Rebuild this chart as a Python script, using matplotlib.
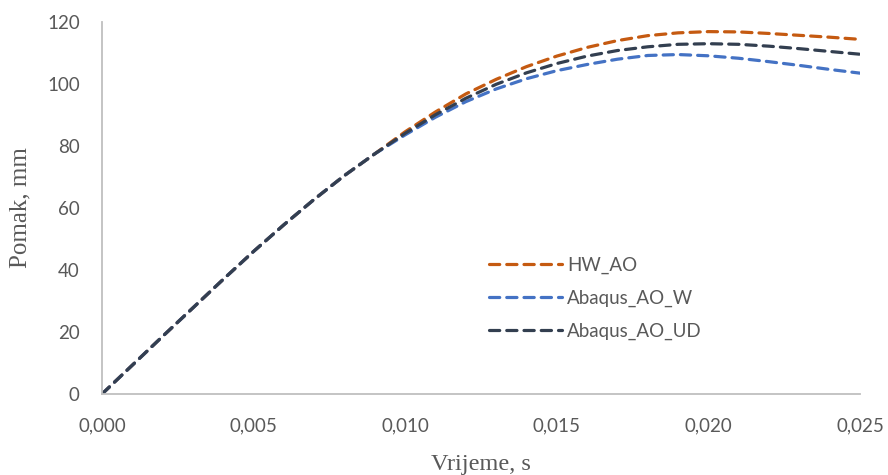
import matplotlib
matplotlib.use("Agg")
import matplotlib.pyplot as plt
from matplotlib.ticker import FuncFormatter

time_s = [0.000, 0.001, 0.002, 0.003, 0.004, 0.005, 0.006, 0.007, 0.008, 0.009,
          0.010, 0.011, 0.012, 0.013, 0.014, 0.015, 0.016, 0.017, 0.018, 0.019,
          0.020, 0.021, 0.022, 0.023, 0.024, 0.025]
common = [0.0, 9.3, 18.6, 27.8, 37.0, 46.0, 54.6, 62.8, 70.5, 77.5]
hw_ao = common + [84.6, 91.0, 96.8, 101.5, 105.6, 109.0, 111.8, 114.0, 115.6, 116.5,
                  116.9, 116.8, 116.3, 115.7, 115.1, 114.4]
abaqus_ao_w = common + [83.6, 89.3, 94.3, 98.4, 101.7, 104.3, 106.3, 108.0, 109.2, 109.5,
                        109.1, 108.3, 107.2, 106.0, 104.7, 103.5]
abaqus_ao_ud = common + [84.1, 90.1, 95.4, 99.9, 103.6, 106.6, 109.0, 110.8, 112.0, 112.8,
                         113.0, 112.8, 112.2, 111.4, 110.5, 109.6]
series_names = ["HW_AO", "Abaqus_AO_W", "Abaqus_AO_UD"]
colors = ["#C55A11", "#4472C4", "#333F50"]

x_ticks = [0.000, 0.005, 0.010, 0.015, 0.020, 0.025]
y_ticks = [0, 20, 40, 60, 80, 100, 120]

fig = plt.figure(figsize=(8.88, 4.75), dpi=100)
ax = fig.add_axes([102/888, 1-394/475, 758/888, 372/475])

for y, name, c in zip([hw_ao, abaqus_ao_w, abaqus_ao_ud], series_names, colors):
    ax.plot(time_s, y, color=c, lw=2.3, linestyle=(0, (3.2, 2.2)),
            dash_capstyle="round", solid_joinstyle="round", label=name)

ax.set_xlim(0, 0.025)
ax.set_ylim(0, 120)
ax.set_xticks(x_ticks)
ax.set_yticks(y_ticks)
ax.xaxis.set_major_formatter(FuncFormatter(lambda v, p: f"{v:.3f}".replace(".", ",")))
for lab in ax.get_xticklabels() + ax.get_yticklabels():
    lab.set_fontfamily("Lato")
    lab.set_fontsize(13.5)
    lab.set_color("#595959")
ax.tick_params(axis="both", length=0)
ax.tick_params(axis="x", pad=17)
ax.tick_params(axis="y", pad=16)

for s in ["top", "right"]:
    ax.spines[s].set_visible(False)
for s in ["left", "bottom"]:
    ax.spines[s].set_color("#BFBFBF")
    ax.spines[s].set_linewidth(1.3)

fig.text(481/888, 1-470/475, "Vrijeme, s", family="Liberation Serif", fontsize=17.5,
         color="#595959", ha="center", va="baseline")
fig.text(20/888, 1-208/475, "Pomak, mm", family="Liberation Serif", fontsize=18,
         color="#595959", ha="center", va="center", rotation=90)

leg = fig.legend(loc="upper left", bbox_to_anchor=(472/888, 1-240/475), frameon=False,
                 prop=dict(family="Lato", size=13.5), handlelength=3.9, handletextpad=0.27,
                 labelspacing=0.84)
for t in leg.get_texts():
    t.set_color("#595959")

fig.savefig("out.png", dpi=100)
